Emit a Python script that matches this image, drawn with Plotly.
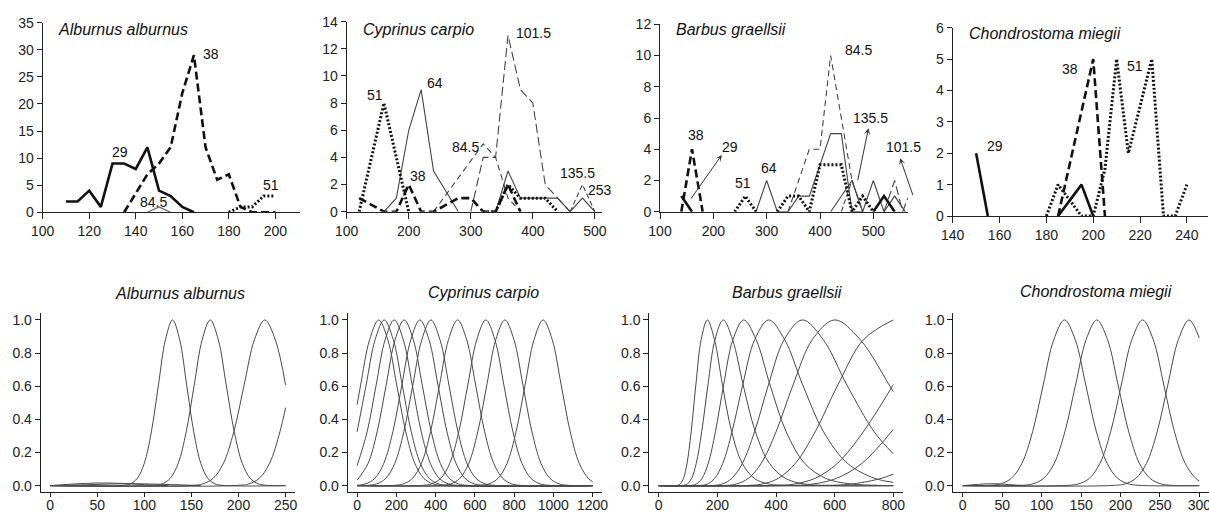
import plotly.graph_objects as go

W, H = 1209, 515
FONT = "Liberation Sans, Arial, Helvetica, sans-serif"

# ======================= TOP ROW: length-frequency data =======================
# --- Alburnus alburnus ---
ALB_X_29 = [110, 115, 120, 125, 130, 135, 140, 145, 150, 155, 160, 165]
ALB_Y_29 = [2, 2, 4, 1, 9, 9, 8, 12, 4, 3, 1, 0]
ALB_X_38 = [135, 140, 145, 150, 155, 160, 165, 170, 175, 180, 185, 190, 195, 200]
ALB_Y_38 = [0, 3.5, 7, 9, 12, 22, 29, 12, 6, 7, 1, 0, 0, 0]
ALB_X_845 = [145, 150, 155]
ALB_Y_845 = [0, 1, 0]
ALB_X_51 = [180, 185, 190, 195, 200]
ALB_Y_51 = [0, 1, 1, 3, 3]

# --- Cyprinus carpio ---
CYP_X_51 = [120, 160, 200, None, 320, 340, 360, 380, 400, 420, 440]
CYP_Y_51 = [0, 8, 0, None, 0, 0, 2, 1, 1, 1, 0]
CYP_X_38 = [120, 160, 180, 200, 220, 240, 280, 300, 320, 340, 360, 380]
CYP_Y_38 = [1, 0, 0, 2, 0, 0, 1, 1, 0, 0, 2, 0]
CYP_X_64 = [160, 180, 200, 220, 240, 280, None, 340, 360, 380, 400, 420, 440, 460]
CYP_Y_64 = [0, 1, 6, 9, 3, 0, None, 0, 3, 1, 1, 1, 1, 0]
CYP_X_845 = [240, 320, 340, 360, 380]
CYP_Y_845 = [0, 5, 4, 1, 0]
CYP_X_1015 = [300, 320, 340, 360, 380, 400, 420, 440, 460]
CYP_Y_1015 = [0, 4, 4, 13, 9, 8, 2, 1, 0]
CYP_X_1355 = [460, 480, 500]
CYP_Y_1355 = [0, 2, 0]
CYP_X_253 = [460, 480, 500]
CYP_Y_253 = [0, 1, 0]

# --- Barbus graellsii ---
BAR_X_29 = [140, 160, None, 500, 520, 540]
BAR_Y_29 = [1, 0, None, 0, 1, 0]
BAR_X_38 = [140, 160, 180]
BAR_Y_38 = [0, 4, 0]
BAR_X_51 = [240, 260, 280, None, 320, 340, 360, 380, 400, 420, 440, 460, 480, 500]
BAR_Y_51 = [0, 1, 0, None, 0, 1, 1, 0, 3, 3, 3, 0, 1, 0]
BAR_X_64 = [280, 300, 320, 340, 360, 380, 420, 440, 460, 480]
BAR_Y_64 = [0, 2, 0, 0, 1, 1, 5, 5, 0, 0]
BAR_X_845 = [340, 380, 400, 420, 460, 480]
BAR_Y_845 = [0, 4, 4, 10, 2, 0]
BAR_X_1355 = [440, 460, 480]
BAR_Y_1355 = [0, 2, 0]
BAR_X_253 = [420, 460, 480, 500, 520, 540, 560]
BAR_Y_253 = [0, 2, 0, 2, 0, 1, 0]
BAR_X_1015 = [520, 540, 555, 565]
BAR_Y_1015 = [0, 2, 0, 0.9]

# --- Chondrostoma miegii ---
CHO_X_29 = [150, 155, None, 185, 195, 200]
CHO_Y_29 = [2, 0, None, 0, 1, 0]
CHO_X_38 = [185, 200, 205]
CHO_Y_38 = [0, 5, 0]
CHO_X_51 = [180, 185, 190, 195, 200, 205, 210, 215, 225, 230, 235, 240]
CHO_Y_51 = [0, 1, 0.5, 0, 0, 1.5, 5, 2, 5, 0, 0, 1]

# ======================= BOTTOM ROW: selectivity curves =======================
ALB_CX = [
    [0, 25, 50, 75, 100, 125],
    [0, 40, 80, 120, 160],
    [0, 77.5, 85, 92.5, 100, 107.5, 115, 122.5, 130, 137.5, 145, 152.5, 160, 167.5, 175, 182.5, 250],
    [0, 110.5, 119, 127.5, 136, 144.5, 153, 161.5, 170, 178.5, 187, 195.5, 204, 212.5, 221, 229.5, 250],
    [0, 151, 162, 173, 184, 195, 206, 217, 228, 239, 250],
    [0, 200, 211, 222, 233, 244, 250],
]
ALB_CY = [
    [0, 0.010, 0.016, 0.014, 0.006, 0],
    [0, 0.006, 0.012, 0.008, 0],
    [0, 0.002, 0.011, 0.044, 0.135, 0.325, 0.607, 0.882, 1.0, 0.882, 0.607, 0.325, 0.135, 0.044, 0.011, 0.002, 0],
    [0, 0.002, 0.011, 0.044, 0.135, 0.325, 0.607, 0.882, 1.0, 0.882, 0.607, 0.325, 0.135, 0.044, 0.011, 0.002, 0],
    [0, 0.002, 0.011, 0.044, 0.135, 0.325, 0.607, 0.882, 1.0, 0.882, 0.607],
    [0, 0.002, 0.011, 0.044, 0.135, 0.325, 0.471],
]

CYP_CX = [
    [0, 18, 64, 110, 156, 202, 248, 294, 340, 386, 432, 1200],
    [0, 46, 92, 138, 184, 230, 276, 322, 368, 414, 460, 1200],
    [0, 51, 97, 143, 189, 235, 281, 327, 373, 419, 465, 511, 1200],
    [0, 56, 102, 148, 194, 240, 286, 332, 378, 424, 470, 516, 562, 1200],
    [0, 44, 90, 136, 182, 228, 274, 320, 366, 412, 458, 504, 550, 596, 642, 1200],
    [0, 54, 100, 146, 192, 238, 284, 330, 376, 422, 468, 514, 560, 606, 652, 698, 1200],
    [0, 190, 236, 282, 328, 374, 420, 466, 512, 558, 604, 650, 696, 742, 788, 834, 1200],
    [0, 334, 380, 426, 472, 518, 564, 610, 656, 702, 748, 794, 840, 886, 932, 978, 1200],
    [0, 431, 477, 523, 569, 615, 661, 707, 753, 799, 845, 891, 937, 983, 1029, 1075, 1200],
    [0, 626, 672, 718, 764, 810, 856, 902, 948, 994, 1040, 1086, 1132, 1178, 1200],
]
CYP_CY = [
    [0.489, 0.607, 0.882, 1.0, 0.882, 0.607, 0.325, 0.135, 0.044, 0.011, 0.002, 0],
    [0.325, 0.607, 0.882, 1.0, 0.882, 0.607, 0.325, 0.135, 0.044, 0.011, 0.002, 0],
    [0.121, 0.325, 0.607, 0.882, 1.0, 0.882, 0.607, 0.325, 0.135, 0.044, 0.011, 0.002, 0],
    [0.033, 0.135, 0.325, 0.607, 0.882, 1.0, 0.882, 0.607, 0.325, 0.135, 0.044, 0.011, 0.002, 0],
    [0.002, 0.011, 0.044, 0.135, 0.325, 0.607, 0.882, 1.0, 0.882, 0.607, 0.325, 0.135, 0.044, 0.011, 0.002, 0],
    [0, 0.002, 0.011, 0.044, 0.135, 0.325, 0.607, 0.882, 1.0, 0.882, 0.607, 0.325, 0.135, 0.044, 0.011, 0.002, 0],
    [0, 0.002, 0.011, 0.044, 0.135, 0.325, 0.607, 0.882, 1.0, 0.882, 0.607, 0.325, 0.135, 0.044, 0.011, 0.002, 0],
    [0, 0.002, 0.011, 0.044, 0.135, 0.325, 0.607, 0.882, 1.0, 0.882, 0.607, 0.325, 0.135, 0.044, 0.011, 0.002, 0],
    [0, 0.002, 0.011, 0.044, 0.135, 0.325, 0.607, 0.882, 1.0, 0.882, 0.607, 0.325, 0.135, 0.044, 0.011, 0.002, 0],
    [0, 0.002, 0.011, 0.044, 0.135, 0.325, 0.607, 0.882, 1.0, 0.882, 0.607, 0.325, 0.135, 0.044, 0.024],
]

BAR_CX = [
    [0, 64.5, 73.9, 84.5, 96.7, 110.7, 126.7, 145.0, 166, 190.0, 217.5, 248.9, 284.9, 326.0, 373.1, 427.1, 800],
    [0, 85.5, 97.9, 112.0, 128.2, 146.7, 167.9, 192.2, 220, 251.8, 288.2, 329.8, 377.5, 432.1, 494.5, 566.0, 800],
    [0, 112.7, 129.0, 147.7, 169.0, 193.4, 221.4, 253.4, 290, 331.9, 379.9, 434.8, 497.6, 569.6, 651.9, 746.1, 800],
    [0, 145.8, 166.8, 191.0, 218.5, 250.1, 286.3, 327.6, 375, 429.2, 491.3, 562.2, 643.5, 736.5, 800],
    [0, 190.5, 218.0, 249.5, 285.5, 326.8, 374.1, 428.1, 490, 560.8, 641.9, 734.7, 800],
    [0, 233.2, 266.9, 305.5, 349.6, 400.2, 458.0, 524.2, 600, 686.7, 786.0, 800],
    [0, 311.0, 355.9, 407.4, 466.2, 533.6, 610.7, 699.0, 800],
    [0, 406.6, 465.4, 532.6, 609.5, 697.7, 800],
    [0, 462.6, 529.4, 606.0, 693.4, 800],
    [0, 579.2, 662.9, 758.7, 800],
]
BAR_CY = [
    [0, 0.002, 0.011, 0.044, 0.135, 0.325, 0.607, 0.882, 1.0, 0.882, 0.607, 0.325, 0.135, 0.044, 0.011, 0.002, 0],
    [0, 0.002, 0.011, 0.044, 0.135, 0.325, 0.607, 0.882, 1.0, 0.882, 0.607, 0.325, 0.135, 0.044, 0.011, 0.002, 0],
    [0, 0.002, 0.011, 0.044, 0.135, 0.325, 0.607, 0.882, 1.0, 0.882, 0.607, 0.325, 0.135, 0.044, 0.011, 0.002, 0],
    [0, 0.002, 0.011, 0.044, 0.135, 0.325, 0.607, 0.882, 1.0, 0.882, 0.607, 0.325, 0.135, 0.044, 0.020],
    [0, 0.002, 0.011, 0.044, 0.135, 0.325, 0.607, 0.882, 1.0, 0.882, 0.607, 0.325, 0.192],
    [0, 0.002, 0.011, 0.044, 0.135, 0.325, 0.607, 0.882, 1.0, 0.882, 0.607, 0.567],
    [0, 0.002, 0.011, 0.044, 0.135, 0.325, 0.607, 0.882, 1.0],
    [0, 0.002, 0.011, 0.044, 0.135, 0.325, 0.61],
    [0, 0.002, 0.011, 0.044, 0.135, 0.339],
    [0, 0.002, 0.011, 0.044, 0.070],
]

CHO_CX = [
    [0, 20, 40, 60, 80],
    [0, 34.5, 48, 61.5, 75, 88.5, 102, 115.5, 129, 142.5, 156, 169.5, 183, 196.5, 210, 223.5, 300],
    [0, 75.5, 89, 102.5, 116, 129.5, 143, 156.5, 170, 183.5, 197, 210.5, 224, 237.5, 251, 264.5, 300],
    [0, 133.5, 147, 160.5, 174, 187.5, 201, 214.5, 228, 241.5, 255, 268.5, 282, 295.5, 300],
    [0, 192.5, 206, 219.5, 233, 246.5, 260, 273.5, 287, 300],
]
CHO_CY = [
    [0, 0.008, 0.012, 0.006, 0],
    [0, 0.002, 0.011, 0.044, 0.135, 0.325, 0.607, 0.882, 1.0, 0.882, 0.607, 0.325, 0.135, 0.044, 0.011, 0.002, 0],
    [0, 0.002, 0.011, 0.044, 0.135, 0.325, 0.607, 0.882, 1.0, 0.882, 0.607, 0.325, 0.135, 0.044, 0.011, 0.002, 0],
    [0, 0.002, 0.011, 0.044, 0.135, 0.325, 0.607, 0.882, 1.0, 0.882, 0.607, 0.325, 0.135, 0.044, 0.029],
    [0, 0.002, 0.011, 0.044, 0.135, 0.325, 0.607, 0.882, 1.0, 0.891],
]

# Titles and tick labels
SPECIES = ["Alburnus alburnus", "Cyprinus carpio", "Barbus graellsii", "Chondrostoma miegii"]
TOP_XTICKS = [[100, 120, 140, 160, 180, 200], [100, 200, 300, 400, 500],
              [100, 200, 300, 400, 500], [140, 160, 180, 200, 220, 240]]
TOP_YTICKS = [list(range(0, 36, 5)), list(range(0, 15, 2)), list(range(0, 13, 2)), list(range(0, 7))]
BOT_XTICKS = [[0, 50, 100, 150, 200, 250], [0, 200, 400, 600, 800, 1000, 1200],
              [0, 200, 400, 600, 800], [0, 50, 100, 150, 200, 250, 300]]
BOT_YTICKS = [0, 0.2, 0.4, 0.6, 0.8, 1.0]
BOT_YTEXT = ["0.0", "0.2", "0.4", "0.6", "0.8", "1.0"]

# ======================= styles =======================
STY = {
    "29": dict(color="#111", width=2.6, dash="solid"),
    "38": dict(color="#111", width=2.6, dash="8px,4px"),
    "51": dict(color="#111", width=3.0, dash="2px,2px"),
    "64": dict(color="#444", width=1.1, dash="solid"),
    "84.5": dict(color="#444", width=1.1, dash="6px,4px"),
    "101.5": dict(color="#444", width=1.1, dash="9px,4px"),
    "135.5": dict(color="#444", width=1.1, dash="5px,3px"),
    "253": dict(color="#444", width=1.1, dash="solid"),
    "thin": dict(color="#666", width=1.1, dash="solid"),
}

fig = go.Figure()


def add_line(x, y, sty, ax):
    fig.add_trace(go.Scatter(x=x, y=y, mode="lines", line=dict(**STY[sty]),
                             xaxis="x" + ax, yaxis="y" + ax, hoverinfo="skip",
                             showlegend=False))


# top row traces
add_line(ALB_X_845, ALB_Y_845, "thin", "")
add_line(ALB_X_51, ALB_Y_51, "51", "")
add_line(ALB_X_29, ALB_Y_29, "29", "")
add_line(ALB_X_38, ALB_Y_38, "38", "")

add_line(CYP_X_845, CYP_Y_845, "84.5", "2")
add_line(CYP_X_1015, CYP_Y_1015, "101.5", "2")
add_line(CYP_X_1355, CYP_Y_1355, "135.5", "2")
add_line(CYP_X_253, CYP_Y_253, "253", "2")
add_line(CYP_X_64, CYP_Y_64, "64", "2")
add_line(CYP_X_38, CYP_Y_38, "38", "2")
add_line(CYP_X_51, CYP_Y_51, "51", "2")

add_line(BAR_X_845, BAR_Y_845, "84.5", "3")
add_line(BAR_X_1015, BAR_Y_1015, "101.5", "3")
add_line(BAR_X_1355, BAR_Y_1355, "135.5", "3")
add_line(BAR_X_253, BAR_Y_253, "253", "3")
add_line(BAR_X_64, BAR_Y_64, "64", "3")
add_line(BAR_X_51, BAR_Y_51, "51", "3")
add_line(BAR_X_38, BAR_Y_38, "38", "3")
add_line(BAR_X_29, BAR_Y_29, "29", "3")

add_line(CHO_X_51, CHO_Y_51, "51", "4")
add_line(CHO_X_29, CHO_Y_29, "29", "4")
add_line(CHO_X_38, CHO_Y_38, "38", "4")

# bottom row curves
for ax, CX, CY in (("5", ALB_CX, ALB_CY), ("6", CYP_CX, CYP_CY),
                   ("7", BAR_CX, BAR_CY), ("8", CHO_CX, CHO_CY)):
    for cx, cy in zip(CX, CY):
        fig.add_trace(go.Scatter(x=cx, y=cy, mode="lines",
                                 line=dict(color="#4a4a4a", width=1, shape="spline", smoothing=1.0),
                                 xaxis="x" + ax, yaxis="y" + ax, hoverinfo="skip",
                                 showlegend=False))


# ======================= layout =======================
def xdom(p0, p1):
    return [p0 / W, p1 / W]


def ydom(ptop, pbot):
    return [1 - pbot / H, 1 - ptop / H]


def axis(domain, rng, tickvals, anchor, ticktext=None, ticklen=5):
    d = dict(domain=domain, range=rng, anchor=anchor, tickmode="array", tickvals=tickvals,
             showline=True, linecolor="#222", linewidth=1, ticks="outside", ticklen=ticklen,
             tickwidth=1, tickcolor="#222", showgrid=False, zeroline=False, automargin=False,
             tickfont=dict(family=FONT, size=14, color="#222"), fixedrange=True)
    if ticktext is not None:
        d["ticktext"] = ticktext
    return d


top_x = [(42.7, 300.0), (346.7, 601.7), (660.0, 908.0), (952.7, 1208.0)]
top_y = [(22.7, 212.3), (21.7, 211.7), (24.3, 211.7), (27.7, 216.0)]
top_xr = [[100, 210.6], [100, 511], [100, 565], [140, 249]]
top_yr = [[0, 35], [0, 14], [0, 12], [0, 6]]
bot_x = [(40.7, 295.0), (347.7, 602.0), (649.3, 902.7), (953.3, 1208.8)]
bot_y = (313.3, 492.3)
bot_xr = [[-10, 260], [-48, 1248], [-32, 832], [-12, 312]]

lay = {}
for i in range(4):
    s = "" if i == 0 else str(i + 1)
    lay["xaxis" + s] = axis(xdom(*top_x[i]), top_xr[i], TOP_XTICKS[i], "y" + s, ticklen=6)
    lay["yaxis" + s] = axis(ydom(*top_y[i]), top_yr[i], TOP_YTICKS[i], "x" + s)
for i in range(4):
    s = str(i + 5)
    xa = axis(xdom(*bot_x[i]), bot_xr[i], BOT_XTICKS[i], "y" + s, ticklen=4)
    xa["ticklabelstandoff"] = -4
    xa["ticklabeloverflow"] = "allow"
    lay["xaxis" + s] = xa
    lay["yaxis" + s] = axis(ydom(*bot_y), [-0.04, 1.04], BOT_YTICKS, "x" + s, ticktext=BOT_YTEXT)

ann = []
# panel titles (top: left aligned inside the plot; bottom: centred above)
top_title_pos = [(56, 30), (361, 30), (674, 30), (967, 33)]
for name, (px, py) in zip(SPECIES, top_title_pos):
    ann.append(dict(text="<i>" + name + "</i>", x=px / W, y=1 - py / H, xref="paper", yref="paper",
                    xanchor="left", yanchor="middle", showarrow=False,
                    font=dict(family=FONT, size=16, color="#111")))
bot_title_pos = [(180, 293), (483, 292), (787, 292), (1096, 291)]
for name, (px, py) in zip(SPECIES, bot_title_pos):
    ann.append(dict(text="<i>" + name + "</i>", x=px / W, y=1 - py / H, xref="paper", yref="paper",
                    xanchor="center", yanchor="middle", showarrow=False,
                    font=dict(family=FONT, size=16, color="#111")))

# series labels (text positions in data units of each panel)
LABELS = [
    ("", "38", 172.4, 29.2), ("", "29", 133.4, 11.2), ("", "84.5", 147.7, 1.96), ("", "51", 198.2, 5.04),
    ("2", "51", 145.6, 8.6), ("2", "64", 242.4, 9.5), ("2", "38", 215.0, 2.6), ("2", "84.5", 290.8, 4.8),
    ("2", "101.5", 400.5, 13.2), ("2", "135.5", 471.5, 2.85), ("2", "253", 509.0, 1.6),
    ("3", "38", 167.5, 4.9), ("3", "29", 231.3, 4.16), ("3", "51", 256.3, 1.82), ("3", "64", 304.5, 2.78),
    ("3", "84.5", 471.5, 10.35), ("3", "135.5", 495.3, 5.98), ("3", "101.5", 556.0, 4.16),
    ("4", "29", 158.1, 2.23), ("4", "38", 190.1, 4.67), ("4", "51", 217.9, 4.78),
]
for ax, t, lx, ly in LABELS:
    ann.append(dict(text=t, x=lx, y=ly, xref="x" + ax, yref="y" + ax, showarrow=False,
                    xanchor="center", yanchor="middle",
                    font=dict(family=FONT, size=14, color="#111")))

# arrows in the Barbus panel: (head x, head y, tail x, tail y)
ARROWS = [(215.8, 3.63, 156.3, 0.75), (490.8, 5.34, 470.2, 1.92), (550.3, 3.42, 575.2, 0.96)]
for hx, hy, tx, ty in ARROWS:
    ann.append(dict(text="", x=hx, y=hy, ax=tx, ay=ty, xref="x3", yref="y3", axref="x3", ayref="y3",
                    showarrow=True, arrowhead=3, arrowsize=1.1, arrowwidth=1, arrowcolor="#333",
                    standoff=0, startstandoff=0))

fig.update_layout(width=W, height=H, margin=dict(l=0, r=0, t=0, b=0),
                  paper_bgcolor="white", plot_bgcolor="white", showlegend=False,
                  annotations=ann, **lay)

fig.write_html("out.html", config={"displayModeBar": False},
               post_script="document.body.style.margin='0px';document.body.style.overflow='hidden';")
